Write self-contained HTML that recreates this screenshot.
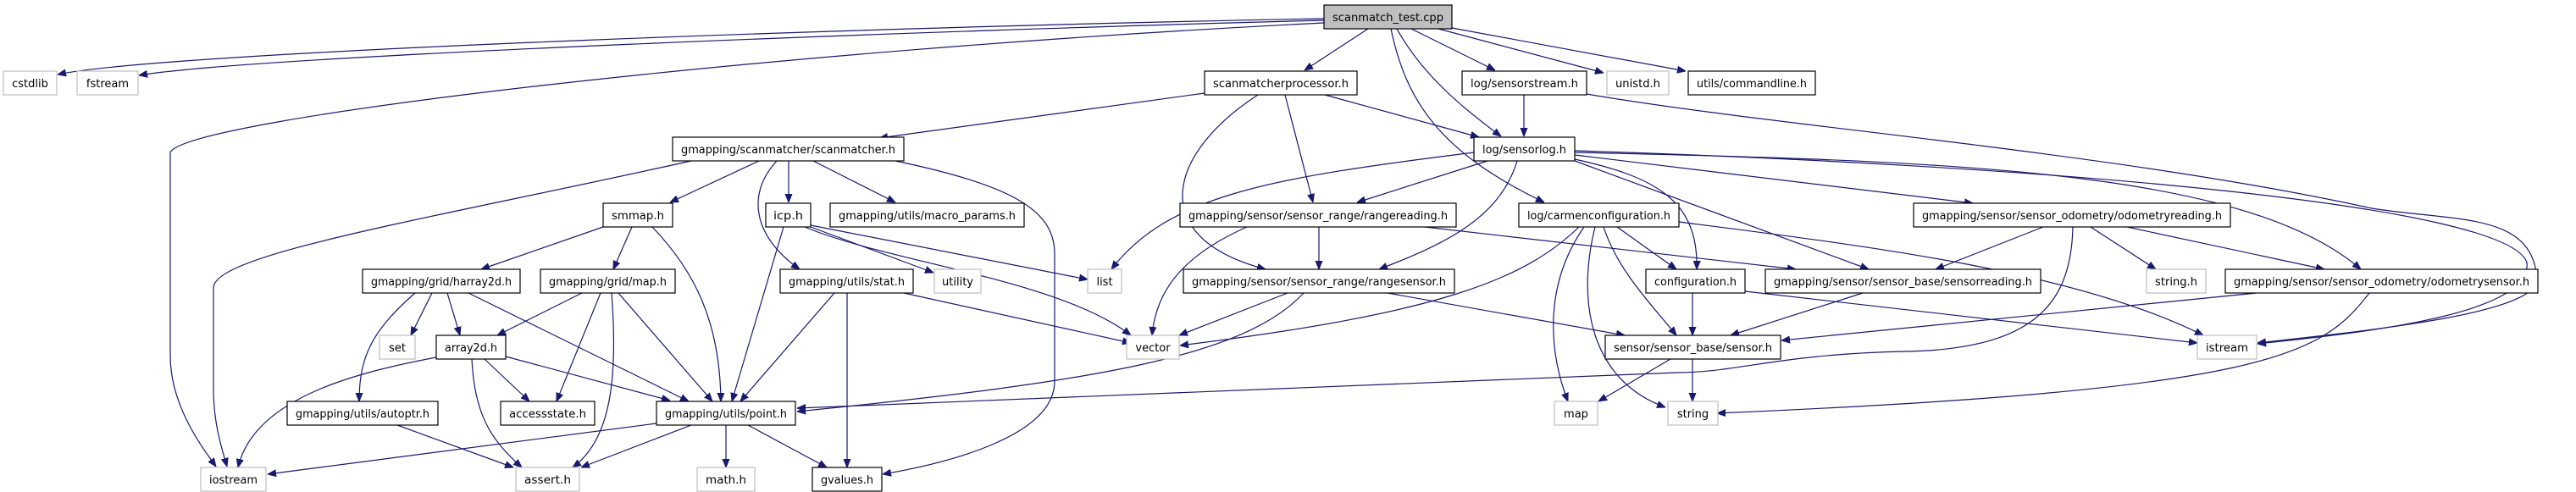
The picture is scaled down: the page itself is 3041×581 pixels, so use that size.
<!DOCTYPE html>
<html><head><meta charset="utf-8"><style>
html,body{margin:0;padding:0;background:#fff;}
svg{display:block;}
text{font-family:"DejaVu Sans","Liberation Sans",sans-serif;font-size:13px;fill:#000;}
.e{fill:none;stroke:#191970;stroke-width:1.2;}
.b{fill:#fff;stroke:#000;stroke-width:1.2;}
.g{fill:#fff;stroke:#bfbfbf;stroke-width:1.2;}
</style></head><body>
<svg width="3041" height="581" viewBox="0 0 3041 581" xmlns="http://www.w3.org/2000/svg">
<defs><marker id="a" viewBox="0 0 10 10" refX="10" refY="5" markerWidth="10" markerHeight="10" markerUnits="userSpaceOnUse" orient="auto"><path d="M0,1 L10,5 L0,9 z" fill="#191970" stroke="#191970"/></marker></defs>
<g marker-end="url(#a)">
<path class="e" d="M1563,22 C1100,30 200,60 68,88"/>
<path class="e" d="M1563,24 C1100,36 300,66 164,89"/>
<path class="e" d="M1563,27 C900,60 220,140 201,180 L201,420 C201,480 240,530 255,551"/>
<path class="e" d="M1615,34 L1540,83"/>
<path class="e" d="M1642,34 C1660,120 1700,180 1823,239"/>
<path class="e" d="M1649,34 C1680,90 1730,130 1772,161"/>
<path class="e" d="M1666,34 L1765,83"/>
<path class="e" d="M1698,34 L1893,86"/>
<path class="e" d="M1714,33 L1990,84"/>
<path class="e" d="M1422,110 L1038,163"/>
<path class="e" d="M1485,112 C1380,180 1350,280 1494,318"/>
<path class="e" d="M1517,112 L1550,239"/>
<path class="e" d="M1564,112 L1746,162"/>
<path class="e" d="M1799,112 L1799,161"/>
<path class="e" d="M1873,111 C2100,150 2500,180 2800,246 C2900,262 2990,250 2995,330 C2995,370 2800,390 2665,405"/>
<path class="e" d="M1740,180 C1500,210 1380,230 1312,318"/>
<path class="e" d="M1756,190 L1602,239"/>
<path class="e" d="M1791,190 C1770,260 1700,290 1628,318"/>
<path class="e" d="M1859,183 L2329,240"/>
<path class="e" d="M1859,190 L2206,318"/>
<path class="e" d="M1859,180 C2300,190 2650,200 2787,318"/>
<path class="e" d="M1859,178 C2400,195 2960,240 2983,310 C2990,370 2800,392 2665,406"/>
<path class="e" d="M1859,188 C1960,210 2005,240 2003,318"/>
<path class="e" d="M816,190 C500,260 252,300 252,340 L252,460 C252,500 262,530 268,551"/>
<path class="e" d="M896,190 L791,239"/>
<path class="e" d="M917,190 C880,230 890,280 944,318"/>
<path class="e" d="M931,190 L931,239"/>
<path class="e" d="M960,190 L1057,239"/>
<path class="e" d="M1057,190 C1200,220 1245,250 1245,300 L1245,450 C1245,520 1100,550 1042,560"/>
<path class="e" d="M712,268 L568,318"/>
<path class="e" d="M746,268 L724,318"/>
<path class="e" d="M770,268 C820,320 850,380 851,474"/>
<path class="e" d="M925,268 L864,474"/>
<path class="e" d="M957,266 L1284,330"/>
<path class="e" d="M957,268 L1102,322"/>
<path class="e" d="M950,268 C1050,310 1250,330 1335,396"/>
<path class="e" d="M490,346 C440,390 424,420 424,474"/>
<path class="e" d="M510,346 L485,396"/>
<path class="e" d="M528,346 L543,396"/>
<path class="e" d="M553,346 L813,474"/>
<path class="e" d="M687,346 L587,396"/>
<path class="e" d="M709,346 L657,474"/>
<path class="e" d="M722,346 C730,450 720,520 676,552"/>
<path class="e" d="M730,346 L841,474"/>
<path class="e" d="M1067,346 L1335,405"/>
<path class="e" d="M985,346 L874,474"/>
<path class="e" d="M1000,346 L1000,552"/>
<path class="e" d="M515,422 C420,440 300,470 281,552"/>
<path class="e" d="M572,424 L625,474"/>
<path class="e" d="M557,424 C560,490 580,520 616,552"/>
<path class="e" d="M597,421 L791,473"/>
<path class="e" d="M469,502 L606,552"/>
<path class="e" d="M775,500 L316,560"/>
<path class="e" d="M816,502 L686,552"/>
<path class="e" d="M857,502 L857,552"/>
<path class="e" d="M883,502 L976,552"/>
<path class="e" d="M1472,268 C1400,300 1365,340 1360,396"/>
<path class="e" d="M1557,268 L1557,318"/>
<path class="e" d="M1682,268 L2120,318"/>
<path class="e" d="M1520,346 L1392,396"/>
<path class="e" d="M1539,346 C1470,420 1300,450 941,486"/>
<path class="e" d="M1638,346 L1918,396"/>
<path class="e" d="M1864,268 C1800,330 1700,370 1393,408"/>
<path class="e" d="M1870,268 C1820,340 1830,420 1851,474"/>
<path class="e" d="M1883,268 C1860,360 1880,450 1966,481"/>
<path class="e" d="M1893,268 C1910,320 1950,360 1979,396"/>
<path class="e" d="M1909,268 L1979,318"/>
<path class="e" d="M1982,262 C2200,290 2450,320 2601,396"/>
<path class="e" d="M1998,346 L1998,396"/>
<path class="e" d="M2060,344 L2594,405"/>
<path class="e" d="M2447,268 C2445,360 2400,412 2250,415 C2100,418 2050,440 1980,440 L941,482"/>
<path class="e" d="M2412,268 L2285,318"/>
<path class="e" d="M2468,268 L2545,318"/>
<path class="e" d="M2511,268 L2744,318"/>
<path class="e" d="M2199,346 L2043,396"/>
<path class="e" d="M2664,346 L2103,402"/>
<path class="e" d="M2797,346 C2740,420 2680,460 2027,488"/>
<path class="e" d="M1972,424 L1887,474"/>
<path class="e" d="M1998,424 L1998,474"/>
</g>
<g>
<rect x="1563" y="6" width="151" height="28" fill="#bfbfbf" stroke="#000" stroke-width="1.2"/><text x="1638.5" y="25" text-anchor="middle" textLength="131" lengthAdjust="spacingAndGlyphs">scanmatch_test.cpp</text>
<rect class="g" x="4" y="84" width="63" height="28"/><text x="35.5" y="103" text-anchor="middle">cstdlib</text>
<rect class="g" x="91" y="84" width="72" height="28"/><text x="127" y="103" text-anchor="middle">fstream</text>
<rect class="b" x="1422" y="84" width="180" height="28"/><text x="1512" y="103" text-anchor="middle" textLength="160" lengthAdjust="spacingAndGlyphs">scanmatcherprocessor.h</text>
<rect class="b" x="1726" y="84" width="147" height="28"/><text x="1799.5" y="103" text-anchor="middle" textLength="127" lengthAdjust="spacingAndGlyphs">log/sensorstream.h</text>
<rect class="g" x="1897" y="84" width="73" height="28"/><text x="1933.5" y="103" text-anchor="middle" textLength="53" lengthAdjust="spacingAndGlyphs">unistd.h</text>
<rect class="b" x="1993" y="84" width="150" height="28"/><text x="2068" y="103" text-anchor="middle" textLength="130" lengthAdjust="spacingAndGlyphs">utils/commandline.h</text>
<rect class="b" x="794" y="162" width="273" height="28"/><text x="930.5" y="181" text-anchor="middle" textLength="253" lengthAdjust="spacingAndGlyphs">gmapping/scanmatcher/scanmatcher.h</text>
<rect class="b" x="1740" y="162" width="119" height="28"/><text x="1799.5" y="181" text-anchor="middle" textLength="99" lengthAdjust="spacingAndGlyphs">log/sensorlog.h</text>
<rect class="b" x="712" y="240" width="82" height="28"/><text x="753" y="259" text-anchor="middle" textLength="62" lengthAdjust="spacingAndGlyphs">smmap.h</text>
<rect class="b" x="904" y="240" width="53" height="28"/><text x="930.5" y="259" text-anchor="middle" textLength="35" lengthAdjust="spacingAndGlyphs">icp.h</text>
<rect class="b" x="980" y="240" width="229" height="28"/><text x="1094.5" y="259" text-anchor="middle" textLength="209" lengthAdjust="spacingAndGlyphs">gmapping/utils/macro_params.h</text>
<rect class="b" x="1393" y="240" width="326" height="28"/><text x="1556" y="259" text-anchor="middle" textLength="306" lengthAdjust="spacingAndGlyphs">gmapping/sensor/sensor_range/rangereading.h</text>
<rect class="b" x="1793" y="240" width="189" height="28"/><text x="1887.5" y="259" text-anchor="middle" textLength="169" lengthAdjust="spacingAndGlyphs">log/carmenconfiguration.h</text>
<rect class="b" x="2259" y="240" width="374" height="28"/><text x="2446" y="259" text-anchor="middle" textLength="354" lengthAdjust="spacingAndGlyphs">gmapping/sensor/sensor_odometry/odometryreading.h</text>
<rect class="b" x="428" y="318" width="186" height="28"/><text x="521" y="337" text-anchor="middle" textLength="166" lengthAdjust="spacingAndGlyphs">gmapping/grid/harray2d.h</text>
<rect class="b" x="638" y="318" width="159" height="28"/><text x="717.5" y="337" text-anchor="middle" textLength="139" lengthAdjust="spacingAndGlyphs">gmapping/grid/map.h</text>
<rect class="b" x="921" y="318" width="157" height="28"/><text x="999.5" y="337" text-anchor="middle" textLength="137" lengthAdjust="spacingAndGlyphs">gmapping/utils/stat.h</text>
<rect class="g" x="1103" y="318" width="55" height="28"/><text x="1130.5" y="337" text-anchor="middle">utility</text>
<rect class="g" x="1284" y="318" width="40" height="28"/><text x="1304" y="337" text-anchor="middle">list</text>
<rect class="b" x="1397" y="318" width="320" height="28"/><text x="1557" y="337" text-anchor="middle" textLength="300" lengthAdjust="spacingAndGlyphs">gmapping/sensor/sensor_range/rangesensor.h</text>
<rect class="b" x="1943" y="318" width="117" height="28"/><text x="2001.5" y="337" text-anchor="middle" textLength="97" lengthAdjust="spacingAndGlyphs">configuration.h</text>
<rect class="b" x="2084" y="318" width="325" height="28"/><text x="2246.5" y="337" text-anchor="middle" textLength="305" lengthAdjust="spacingAndGlyphs">gmapping/sensor/sensor_base/sensorreading.h</text>
<rect class="g" x="2534" y="318" width="70" height="28"/><text x="2569" y="337" text-anchor="middle" textLength="50" lengthAdjust="spacingAndGlyphs">string.h</text>
<rect class="b" x="2627" y="318" width="369" height="28"/><text x="2811.5" y="337" text-anchor="middle" textLength="349" lengthAdjust="spacingAndGlyphs">gmapping/sensor/sensor_odometry/odometrysensor.h</text>
<rect class="g" x="448" y="396" width="42" height="28"/><text x="469" y="415" text-anchor="middle">set</text>
<rect class="b" x="515" y="396" width="82" height="28"/><text x="556" y="415" text-anchor="middle" textLength="62" lengthAdjust="spacingAndGlyphs">array2d.h</text>
<rect class="g" x="1330" y="396" width="62" height="28"/><text x="1361" y="415" text-anchor="middle">vector</text>
<rect class="b" x="1895" y="396" width="207" height="28"/><text x="1998.5" y="415" text-anchor="middle" textLength="187" lengthAdjust="spacingAndGlyphs">sensor/sensor_base/sensor.h</text>
<rect class="g" x="2594" y="396" width="70" height="28"/><text x="2629" y="415" text-anchor="middle" textLength="50" lengthAdjust="spacingAndGlyphs">istream</text>
<rect class="b" x="339" y="474" width="178" height="28"/><text x="428" y="493" text-anchor="middle" textLength="158" lengthAdjust="spacingAndGlyphs">gmapping/utils/autoptr.h</text>
<rect class="b" x="591" y="474" width="111" height="28"/><text x="646.5" y="493" text-anchor="middle" textLength="91" lengthAdjust="spacingAndGlyphs">accessstate.h</text>
<rect class="b" x="775" y="474" width="164" height="28"/><text x="857" y="493" text-anchor="middle" textLength="144" lengthAdjust="spacingAndGlyphs">gmapping/utils/point.h</text>
<rect class="g" x="1835" y="474" width="51" height="28"/><text x="1860.5" y="493" text-anchor="middle">map</text>
<rect class="g" x="1969" y="474" width="59" height="28"/><text x="1998.5" y="493" text-anchor="middle">string</text>
<rect class="g" x="237" y="552" width="77" height="28"/><text x="275.5" y="571" text-anchor="middle" textLength="57" lengthAdjust="spacingAndGlyphs">iostream</text>
<rect class="g" x="609" y="552" width="75" height="28"/><text x="646.5" y="571" text-anchor="middle" textLength="55" lengthAdjust="spacingAndGlyphs">assert.h</text>
<rect class="g" x="823" y="552" width="68" height="28"/><text x="857" y="571" text-anchor="middle" textLength="48" lengthAdjust="spacingAndGlyphs">math.h</text>
<rect class="b" x="959" y="552" width="82" height="28"/><text x="1000" y="571" text-anchor="middle" textLength="62" lengthAdjust="spacingAndGlyphs">gvalues.h</text>
</g>
</svg>
</body></html>
